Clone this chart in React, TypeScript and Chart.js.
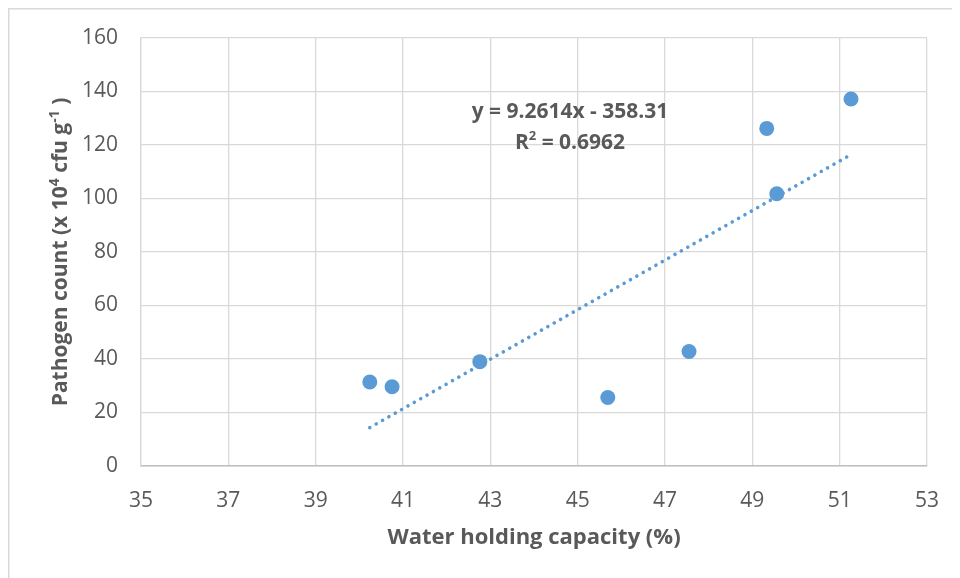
import React, { useEffect, useRef } from "react";
import { Chart, registerables } from "chart.js";

Chart.register(...registerables);

// ---- data ----
const WHC_X: number[] = [40.24, 40.75, 42.76, 45.69, 47.55, 49.33, 49.56, 51.26];
const PATHOGEN_Y: number[] = [31.4, 29.6, 39.0, 25.6, 42.8, 126.2, 101.8, 137.2];
const TREND_SLOPE = 9.2614;
const TREND_INTERCEPT = -358.31;
const TREND_X: number[] = [40.24, 51.26];
const X_MIN = 35, X_MAX = 53, X_STEP = 2;
const Y_MIN = 0, Y_MAX = 160, Y_STEP = 20;
const EQ_LINE = "y = 9.2614x - 358.31";
const R2_LABEL = "R";
const R2_VALUE = " = 0.6962";
const X_TITLE = "Water holding capacity (%)";
const Y_TITLE_PARTS: { t: string; sup: boolean }[] = [
  { t: "Pathogen count (x 10", sup: false },
  { t: "4", sup: true },
  { t: " cfu g", sup: false },
  { t: "-1", sup: true },
  { t: " )", sup: false },
];

const BLUE = "#5b9bd5";
const TEXT = "#595959";
const FONT = "'Open Sans', 'Noto Sans', sans-serif";

const decorPlugin = {
  id: "decor",
  afterDraw(chart: any) {
    const ctx: CanvasRenderingContext2D = chart.ctx;
    const W = chart.width, H = chart.height;
    ctx.save();
    // outer frame (left & top)
    ctx.strokeStyle = "#d9d9d9";
    ctx.lineWidth = 1.5;
    ctx.beginPath();
    ctx.moveTo(0.75, H);
    ctx.lineTo(0.75, 0.75);
    ctx.lineTo(W, 0.75);
    ctx.stroke();

    const area = chart.chartArea;
    const cx = (area.left + area.right) / 2;
    ctx.fillStyle = TEXT;

    // x title
    ctx.font = `bold 22px ${FONT}`;
    ctx.textAlign = "center";
    ctx.textBaseline = "middle";
    ctx.fillText(X_TITLE, cx, 530);

    // y title with superscripts
    const size = 21;
    const supSize = 14;
    let total = 0;
    const widths: number[] = [];
    for (const p of Y_TITLE_PARTS) {
      ctx.font = `bold ${p.sup ? supSize : size}px ${FONT}`;
      const w = ctx.measureText(p.t).width;
      widths.push(w);
      total += w;
    }
    ctx.save();
    ctx.translate(52, (area.top + area.bottom) / 2);
    ctx.rotate(-Math.PI / 2);
    ctx.textAlign = "left";
    ctx.textBaseline = "alphabetic";
    let x = -total / 2;
    const base = 7;
    Y_TITLE_PARTS.forEach((p, i) => {
      ctx.font = `bold ${p.sup ? supSize : size}px ${FONT}`;
      ctx.fillText(p.t, x, p.sup ? base - 8 : base);
      x += widths[i];
    });
    ctx.restore();

    // equation
    const ex = 562;
    ctx.font = `bold 21px ${FONT}`;
    ctx.textAlign = "center";
    ctx.textBaseline = "middle";
    ctx.fillText(EQ_LINE, ex, 104);
    ctx.textAlign = "left";
    ctx.textBaseline = "alphabetic";
    const wR = ctx.measureText(R2_LABEL).width;
    const wV = ctx.measureText(R2_VALUE).width;
    ctx.font = `bold 13px ${FONT}`;
    const w2 = ctx.measureText("2").width;
    const tw = wR + w2 + wV;
    let sx = ex - tw / 2;
    const by = 141;
    ctx.font = `bold 21px ${FONT}`;
    ctx.fillText(R2_LABEL, sx, by);
    sx += wR;
    ctx.font = `bold 13px ${FONT}`;
    ctx.fillText("2", sx, by - 9);
    sx += w2;
    ctx.font = `bold 21px ${FONT}`;
    ctx.fillText(R2_VALUE, sx, by);
    ctx.restore();
  },
};

export default function App() {
  const ref = useRef<HTMLCanvasElement | null>(null);
  useEffect(() => {
    if (!ref.current) return;
    const points = WHC_X.map((x, i) => ({ x, y: PATHOGEN_Y[i] }));
    const trend = TREND_X.map((x) => ({ x, y: TREND_SLOPE * x + TREND_INTERCEPT }));
    const chart = new Chart(ref.current, {
      type: "scatter",
      data: {
        datasets: [
          {
            label: "data",
            data: points,
            pointRadius: 7.5,
            pointHoverRadius: 7.5,
            backgroundColor: BLUE,
            borderWidth: 0,
            order: 2,
          },
          {
            type: "line",
            label: "trend",
            data: trend,
            borderColor: BLUE,
            borderWidth: 3.6,
            borderDash: [0.01, 7.3],
            borderCapStyle: "round",
            pointRadius: 0,
            showLine: true,
            fill: false,
            order: 1,
          } as any,
        ],
      },
      options: {
        animation: false,
        responsive: false,
        events: [],
        layout: { padding: { left: 0, top: 30, right: 33, bottom: 0 } },
        plugins: { legend: { display: false }, tooltip: { enabled: false }, title: { display: false } },
        scales: {
          x: {
            type: "linear",
            min: X_MIN,
            max: X_MAX,
            afterFit: (s: any) => { s.height = 112; s.paddingLeft = 0; s.paddingRight = 0; },
            afterBuildTicks: (s: any) => {
              const t: any[] = [];
              for (let v = X_MIN; v <= X_MAX; v += X_STEP) t.push({ value: v });
              s.ticks = t;
            },
            ticks: { color: TEXT, font: { family: FONT, size: 21 }, padding: 22, maxRotation: 0 },
            grid: { color: "#d9d9d9", lineWidth: 1.3, drawTicks: false },
            border: { color: "#bfbfbf", width: 1.5 },
          },
          y: {
            type: "linear",
            min: Y_MIN,
            max: Y_MAX,
            afterFit: (s: any) => { s.width = 133; s.paddingTop = 0; s.paddingBottom = 0; },
            ticks: { stepSize: Y_STEP, color: TEXT, font: { family: FONT, size: 21 }, padding: 23 },
            grid: { color: "#d9d9d9", lineWidth: 1.3, drawTicks: false },
            border: { color: "#d9d9d9", width: 1.3 },
          },
        },
      },
      plugins: [decorPlugin],
    });
    return () => chart.destroy();
  }, []);
  return (
    <div style={{ width: 952, height: 570 }}>
      <canvas ref={ref} width={952} height={570} style={{ display: "block" }} />
    </div>
  );
}
